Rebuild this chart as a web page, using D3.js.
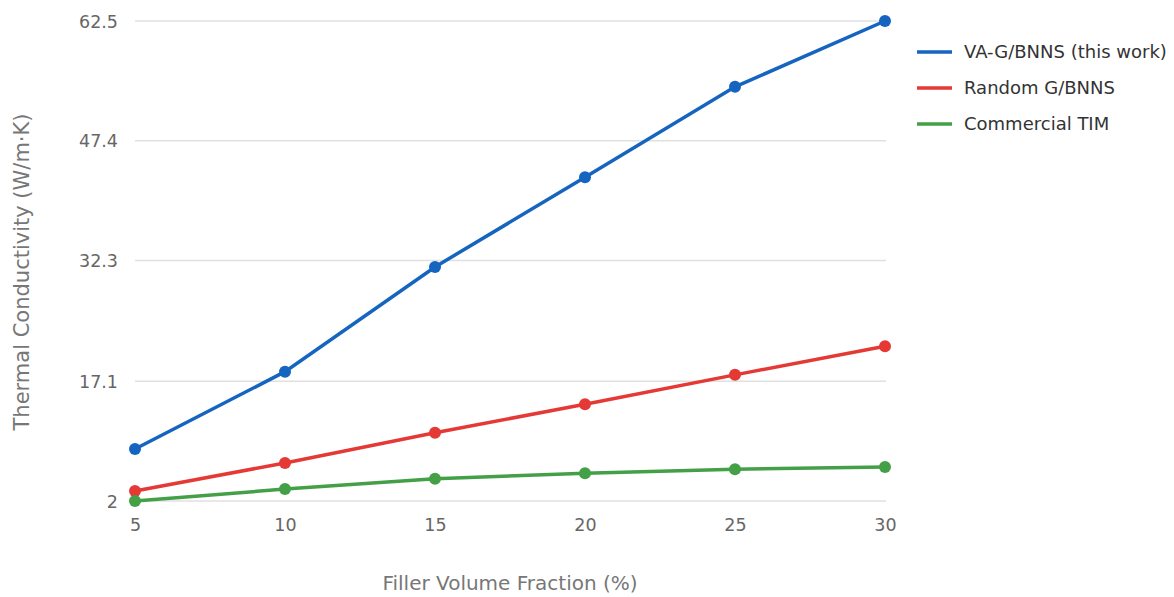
<!DOCTYPE html>
<html><head><meta charset="utf-8">
<script src="https://cdn.jsdelivr.net/npm/d3@7"></script>
<style>body{margin:0;background:#fff;} svg{display:block;font-family:"DejaVu Sans",sans-serif;}</style>
</head><body><svg id="c" width="1174" height="597"></svg>
<script>
const fractions = [5, 10, 15, 20, 25, 30];
const vaGBNNS = [8.55, 18.3, 31.5, 42.8, 54.2, 62.5];
const randomGBNNS = [3.25, 6.8, 10.6, 14.2, 17.9, 21.5];
const commercialTIM = [2.0, 3.5, 4.8, 5.5, 6.0, 6.3];
const yTicks = [2, 17.1, 32.3, 47.4, 62.5];
const seriesNames = ["VA-G/BNNS (this work)", "Random G/BNNS", "Commercial TIM"];
const colors = ["#1565c0", "#e53935", "#43a047"];

const series = [vaGBNNS, randomGBNNS, commercialTIM].map((v, i) => ({name: seriesNames[i], color: colors[i], values: v}));
const svg = d3.select("#c");
const x = d3.scaleLinear().domain([5, 30]).range([135, 885]);
const y = d3.scaleLinear().domain([2, 62.5]).range([501, 21]);

// grid
svg.append("g").selectAll("line").data(yTicks).join("line")
  .attr("x1", 135).attr("x2", 886).attr("y1", d => y(d)).attr("y2", d => y(d))
  .attr("stroke", "#e0e0e0").attr("stroke-width", 1.5);

// y axis
const ya = svg.append("g").attr("transform", "translate(135,0)")
  .call(d3.axisLeft(y).tickValues(yTicks).tickSize(0).tickPadding(17).tickFormat(d => String(d)));
ya.select(".domain").remove();
ya.selectAll("text").attr("font-size", 17.5).attr("fill", "#666").attr("font-family", "DejaVu Sans").attr("dy", "0.35em").attr("y", 0);

// x axis
const xa = svg.append("g").attr("transform", "translate(0,501)")
  .call(d3.axisBottom(x).tickValues(fractions).tickSize(0).tickPadding(18));
xa.select(".domain").remove();
xa.selectAll("text").attr("font-size", 17.5).attr("fill", "#666").attr("font-family", "DejaVu Sans");

// titles
svg.append("text").attr("x", 510).attr("y", 590).attr("text-anchor", "middle")
  .attr("font-size", 20).attr("fill", "#777").text("Filler Volume Fraction (%)");
svg.append("text").attr("transform", "translate(29,272) rotate(-90)").attr("text-anchor", "middle")
  .attr("font-size", 21).attr("fill", "#777").text("Thermal Conductivity (W/m·K)");

// lines
const line = d3.line().x((d, i) => x(fractions[i])).y(d => y(d));
series.forEach(s => {
  svg.append("path").attr("d", line(s.values)).attr("fill", "none")
    .attr("stroke", s.color).attr("stroke-width", 3.5);
  svg.append("g").selectAll("circle").data(s.values).join("circle")
    .attr("cx", (d, i) => x(fractions[i])).attr("cy", d => y(d)).attr("r", 6).attr("fill", s.color);
});

// legend
const lg = svg.append("g").attr("transform", "translate(917,52)");
series.forEach((s, i) => {
  const g = lg.append("g").attr("transform", `translate(0,${i * 36})`);
  g.append("line").attr("x1", 0).attr("x2", 35).attr("stroke", s.color).attr("stroke-width", 3.5);
  g.append("text").attr("x", 47).attr("dy", "0.35em").attr("font-size", 18).attr("fill", "#333").text(s.name);
});
</script></body></html>
